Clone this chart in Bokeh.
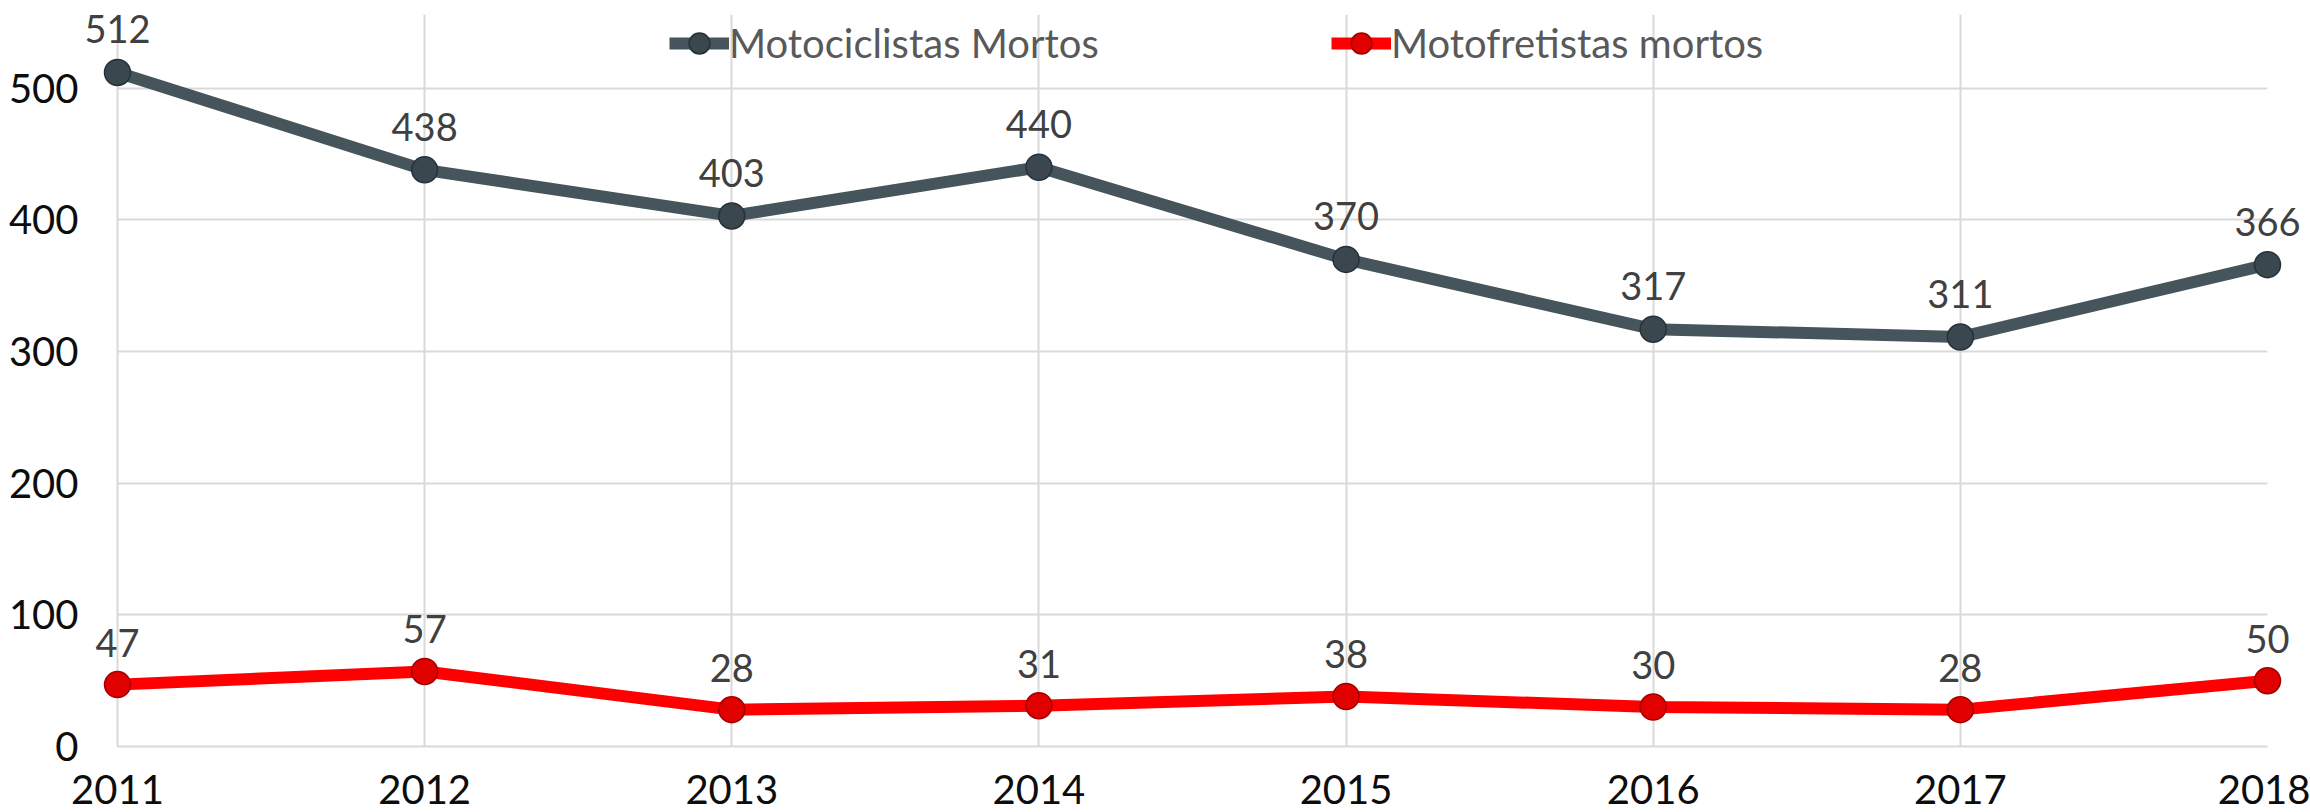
from bokeh.plotting import figure
from bokeh.models import Range1d, FixedTicker, ColumnDataSource, Legend, LegendItem
from bokeh.core.properties import value
from bokeh.embed import file_html
from bokeh.resources import INLINE

years = [2011, 2012, 2013, 2014, 2015, 2016, 2017, 2018]
motociclistas = [512, 438, 403, 440, 370, 317, 311, 366]
motofretistas = [47, 57, 28, 31, 38, 30, 28, 50]
y_ticks = [0, 100, 200, 300, 400, 500]
series_names = ["Motociclistas Mortos", "Motofretistas mortos"]

FONT = "Lato"
GRID = "#d9d9d9"
GRAY = "#46545b"
RED = "#ff0000"

src = ColumnDataSource(dict(
    x=years,
    a=motociclistas,
    b=motofretistas,
    a_lbl=[str(v) for v in motociclistas],
    b_lbl=[str(v) for v in motofretistas],
))

W, H = 2310, 812
BL, BR, BT, BB = 117, 43, 14, 66

p = figure(width=W, height=H, output_backend="svg", toolbar_location=None,
           x_range=Range1d(2011, 2018), y_range=Range1d(0, 556),
           min_border_left=BL, min_border_right=BR, min_border_top=BT,
           min_border_bottom=BB)
p.outline_line_color = None
p.background_fill_color = "white"

p.xaxis.ticker = FixedTicker(ticks=years)
p.yaxis.ticker = FixedTicker(ticks=y_ticks)
for ax in (p.xaxis[0], p.yaxis[0]):
    ax.major_tick_line_color = None
    ax.minor_tick_line_color = None
    ax.major_tick_out = 0
    ax.major_tick_in = 0
    ax.axis_line_color = GRID
    ax.axis_line_width = 2
    ax.major_label_text_font = FONT
    ax.major_label_text_font_size = "40px"
    ax.major_label_text_color = "#0d0d0d"
p.yaxis.major_label_standoff = 39
p.xaxis.major_label_standoff = 28

p.xgrid.grid_line_color = GRID
p.xgrid.grid_line_width = 2
p.ygrid.grid_line_color = GRID
p.ygrid.grid_line_width = 2

la = p.line("x", "a", source=src, line_color=GRAY, line_width=12, line_join="round")
ma = p.scatter("x", "a", source=src, size=26, marker="circle",
               fill_color="#3a474e", line_color="#27313a", line_width=1.5)
lb = p.line("x", "b", source=src, line_color=RED, line_width=12, line_join="round")
mb = p.scatter("x", "b", source=src, size=26, marker="circle",
               fill_color="#e00000", line_color="#a00000", line_width=1.5)
ta = p.text("x", "a", text="a_lbl", source=src, text_align="center",
            text_baseline="middle", y_offset=-43,
            text_font=value(FONT), text_font_size="38px", text_color="#404040")
tb = p.text("x", "b", text="b_lbl", source=src, text_align="center",
            text_baseline="middle", y_offset=-42,
            text_font=value(FONT), text_font_size="38px", text_color="#404040")
for r in (la, ma, lb, mb, ta, tb):
    r.level = "overlay"

frame_h = H - BT - BB
# legend vertical centre ~29px below the frame top
leg1 = Legend(items=[LegendItem(label=series_names[0], renderers=[la, ma])],
              location=(552, frame_h - 29 - 26), orientation="horizontal")
leg2 = Legend(items=[LegendItem(label=series_names[1], renderers=[lb, mb])],
              location=(1214, frame_h - 29 - 26), orientation="horizontal")
for lg in (leg1, leg2):
    lg.border_line_color = None
    lg.background_fill_alpha = 0
    lg.padding = 0
    lg.margin = 0
    lg.glyph_width = 60
    lg.glyph_height = 52
    lg.label_standoff = 0
    lg.label_text_font = FONT
    lg.label_text_font_size = "40px"
    lg.label_text_color = "#595959"
    lg.label_height = 44
    lg.level = "overlay"
    p.add_layout(lg)

open("out.html", "w").write(file_html(p, INLINE))
